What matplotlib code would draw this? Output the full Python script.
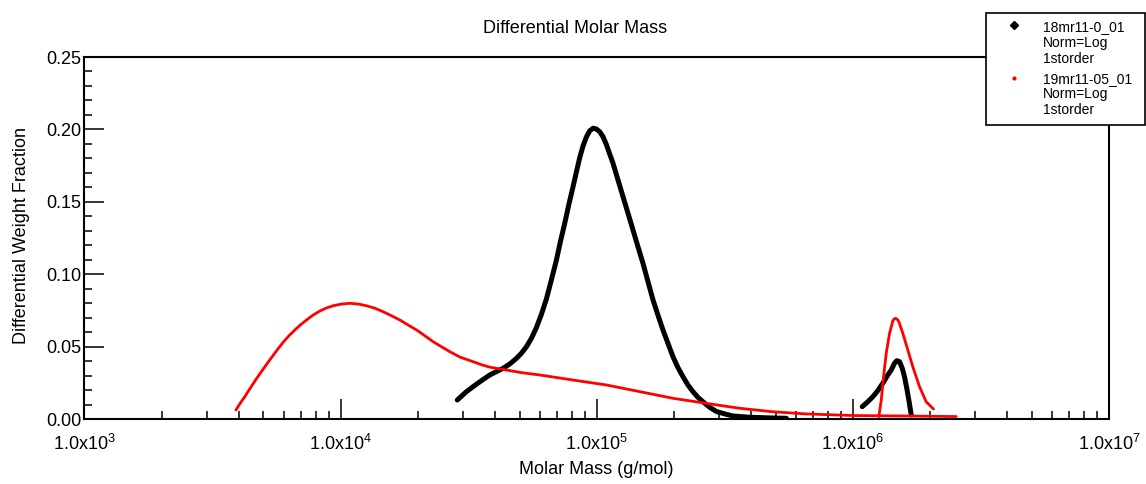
import matplotlib
matplotlib.use("Agg")
import matplotlib.pyplot as plt
from matplotlib.lines import Line2D
from matplotlib.patches import Rectangle
from matplotlib.ticker import LogLocator, MultipleLocator, NullFormatter

plt.rcParams['font.family'] = ['Liberation Sans', 'DejaVu Sans']
plt.rcParams['mathtext.fontset'] = 'custom'
plt.rcParams['mathtext.rm'] = 'Liberation Sans'
plt.rcParams['mathtext.it'] = 'Liberation Sans:italic'
plt.rcParams['mathtext.bf'] = 'Liberation Sans:bold'

# ---------------- data ----------------
title = "Differential Molar Mass"
x_label = "Molar Mass (g/mol)"
y_label = "Differential Weight Fraction"

series1_lines = ["18mr11-0_01", "Norm=Log", "1storder"]
series2_lines = ["19mr11-05_01", "Norm=Log", "1storder"]

# 18mr11-0_01 (black), main distribution
black_main_mass = [28560, 31010, 32900, 35480, 38260, 40600, 43090, 45780, 48620,
                   50820, 53180, 55600, 58180, 60810, 63660, 66520, 69640, 72130,
                   75010, 77770, 80830, 83360, 85880, 88430, 91160, 93910, 96740,
                   99720, 102700, 105800, 109100, 112400, 115800, 121100, 126700,
                   132500, 138600, 144900, 151600, 158600, 165900, 173400, 181400,
                   189700, 198500, 207600, 217200, 227100, 237500, 248400, 259900,
                   276000, 293100, 320700, 340200, 395400, 487500, 549800]
black_main_frac = [0.0131, 0.0189, 0.0223, 0.0265, 0.0304, 0.0327, 0.0350, 0.0380,
                   0.0419, 0.0454, 0.0499, 0.0557, 0.0632, 0.0722, 0.0830, 0.0960,
                   0.1098, 0.1224, 0.1351, 0.1478, 0.1604, 0.1708, 0.1806, 0.1885,
                   0.1948, 0.1990, 0.2008, 0.2003, 0.1984, 0.1950, 0.1895, 0.1830,
                   0.1766, 0.1651, 0.1535, 0.1421, 0.1305, 0.1190, 0.1075, 0.0948,
                   0.0822, 0.0718, 0.0615, 0.0523, 0.0430, 0.0355, 0.0292, 0.0235,
                   0.0189, 0.0150, 0.0119, 0.0081, 0.0052, 0.0032, 0.0021, 0.0012,
                   0.0007, 0.0005]

# 18mr11-0_01 (black), high-mass peak
black_high_mass = [1088000, 1144000, 1197000, 1252000, 1309000, 1369000, 1412000,
                   1454000, 1485000, 1521000, 1559000, 1591000, 1624000, 1654000,
                   1690000]
black_high_frac = [0.0085, 0.0119, 0.0154, 0.0196, 0.0247, 0.0304, 0.0338,
                   0.0385, 0.0403, 0.0396, 0.0350, 0.0292, 0.0212, 0.0131,
                   0.0028]

# 19mr11-05_01 (red), main distribution
red_main_mass = [3904, 4047, 4234, 4387, 4560, 4771, 4989, 5218, 5458, 5707, 5971,
                 6283, 6633, 6983, 7366, 7818, 8303, 8820, 9357, 10090, 10870,
                 11710, 12630, 13610, 14660, 15810, 17030, 18360, 19800, 21330,
                 22980, 24780, 26700, 29210, 32900, 35480, 38260, 44430, 51000,
                 59930, 70000, 80830, 109100, 147200, 198500, 267900, 361400,
                 487500, 657900, 1000000, 1521000, 2532000]
red_main_frac = [0.0062, 0.0106, 0.0155, 0.0199, 0.0244, 0.0296, 0.0345, 0.0393,
                 0.0440, 0.0486, 0.0530, 0.0574, 0.0615, 0.0651, 0.0684, 0.0718,
                 0.0746, 0.0767, 0.0782, 0.0794, 0.0799, 0.0794, 0.0782, 0.0765,
                 0.0741, 0.0713, 0.0684, 0.0649, 0.0615, 0.0575, 0.0534, 0.0499,
                 0.0465, 0.0428, 0.0396, 0.0375, 0.0358, 0.0338, 0.0320, 0.0304,
                 0.0286, 0.0269, 0.0235, 0.0189, 0.0143, 0.0108, 0.0074, 0.0050,
                 0.0035, 0.0024, 0.0021, 0.0017]

# 19mr11-05_01 (red), high-mass peak
red_high_mass = [1263000, 1291000, 1318000, 1350000, 1391000, 1433000, 1451000,
                 1468000, 1490000, 1512000, 1567000, 1639000, 1714000, 1821000,
                 1933000, 2065000]
red_high_frac = [0.0016, 0.0131, 0.0292, 0.0454, 0.0592, 0.0679, 0.0691, 0.0695,
                 0.0689, 0.0672, 0.0592, 0.0477, 0.0361, 0.0223, 0.0119, 0.0069]

x_ticks = [1e3, 1e4, 1e5, 1e6, 1e7]
x_tick_labels = [r'$\mathregular{1.0x10^{3}}$', r'$\mathregular{1.0x10^{4}}$',
                 r'$\mathregular{1.0x10^{5}}$', r'$\mathregular{1.0x10^{6}}$',
                 r'$\mathregular{1.0x10^{7}}$']
y_ticks = [0.00, 0.05, 0.10, 0.15, 0.20, 0.25]
y_tick_labels = ["0.00", "0.05", "0.10", "0.15", "0.20", "0.25"]

BLACK = "#000000"
RED = "#ff0000"

# ---------------- figure ----------------
W, H = 1146, 484
fig = plt.figure(figsize=(W / 100, H / 100), dpi=100)
ax_l, ax_r, ax_t, ax_b = 84.4, 1109, 57, 419
ax = fig.add_axes([ax_l / W, 1 - ax_b / H, (ax_r - ax_l) / W, (ax_b - ax_t) / H])

line_kw = dict(solid_capstyle='round', solid_joinstyle='round')
ax.plot(black_main_mass, black_main_frac, color=BLACK, lw=3.6, zorder=3, **line_kw)
ax.plot(black_high_mass, black_high_frac, color=BLACK, lw=3.6, zorder=3, **line_kw)
ax.plot(red_main_mass, red_main_frac, color=RED, lw=2.0, zorder=4, **line_kw)
ax.plot(red_high_mass, red_high_frac, color=RED, lw=2.0, zorder=4, **line_kw)

ax.set_xscale('log')
ax.set_xlim(1e3, 1e7)
ax.set_ylim(0, 0.25)

ax.set_xticks(x_ticks)
ax.set_xticklabels(x_tick_labels)
ax.xaxis.set_minor_locator(LogLocator(base=10, subs=range(2, 10), numticks=20))
ax.xaxis.set_minor_formatter(NullFormatter())
ax.set_yticks(y_ticks)
ax.set_yticklabels(y_tick_labels)
ax.yaxis.set_minor_locator(MultipleLocator(0.01))

for s in ax.spines.values():
    s.set_linewidth(1.5)
    s.set_color(BLACK)

ax.tick_params(axis='both', which='major', direction='in', length=14.5, width=1.1,
               labelsize=13, colors=BLACK, top=False, right=False)
ax.tick_params(axis='both', which='minor', direction='in', length=5.8, width=1.1,
               top=False, right=False)
ax.tick_params(axis='x', which='major', pad=11)
ax.tick_params(axis='y', which='major', pad=2)

ax.set_xlabel(x_label, fontsize=13)
ax.xaxis.set_label_coords(0.5, (ax_b - 473.5) / (ax_b - ax_t))
ax.xaxis.label.set_va('baseline')
ax.set_ylabel(y_label, fontsize=13)
ax.yaxis.set_label_coords((22 - ax_l) / (ax_r - ax_l), (ax_b - 235) / (ax_b - ax_t))
ax.yaxis.label.set_va('center')
ax.yaxis.label.set_ha('center')

fig.text(575.5 / W, 1 - 33.3 / H, title, fontsize=13, ha='center', va='baseline')

# ---------------- legend (drawn in figure pixels) ----------------
def fx(px):
    return px / W

def fy(py):
    return 1 - py / H

box = Rectangle((fx(986), fy(125)), fx(1145) - fx(986), fy(13) - fy(125),
                transform=fig.transFigure, facecolor='white', edgecolor=BLACK,
                linewidth=1.2, zorder=20, clip_on=False)
fig.add_artist(box)

fig.add_artist(Line2D([fx(1014.3)], [fy(25)], marker='D', markersize=3.6,
                      color=BLACK, linestyle='none', transform=fig.transFigure,
                      zorder=21))
fig.add_artist(Line2D([fx(1013.5)], [fy(77.7)], marker='o', markersize=2.0,
                      color=RED, linestyle='none', transform=fig.transFigure,
                      zorder=21))

baselines1 = [30.7, 47.3, 63.3]
baselines2 = [82.7, 98.3, 114.0]
for txt, b in zip(series1_lines, baselines1):
    fig.text(fx(1043), fy(b), txt, fontsize=10, ha='left', va='baseline', zorder=22)
for txt, b in zip(series2_lines, baselines2):
    fig.text(fx(1043), fy(b), txt, fontsize=10, ha='left', va='baseline', zorder=22)

fig.savefig("out.png", dpi=100)
